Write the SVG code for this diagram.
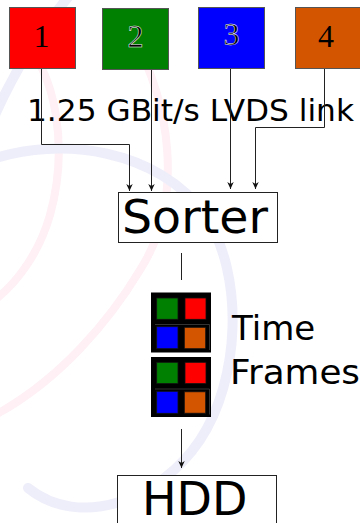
<svg xmlns="http://www.w3.org/2000/svg" width="360" height="523" viewBox="0 0 360 523">
<style>
.wm-b{fill:none;stroke:#eeeefa;stroke-width:10;stroke-linecap:round}
.wm-p{fill:none;stroke:#fef0f5;stroke-width:8;stroke-linecap:round}
.src{stroke:#555;stroke-width:1}
.num{font-family:"Liberation Serif","DejaVu Serif",serif;font-size:32px;text-anchor:middle;fill:#000}
.num2{stroke:#fff;stroke-width:0.5}
.lbl{font-family:"DejaVu Sans",sans-serif;fill:#000}
.box{fill:#fff;stroke:#222;stroke-width:1}
.con{fill:none;stroke:#222;stroke-width:1}
.frm{fill:#000}
.sub{stroke:#111;stroke-width:0.8}
.div{stroke:#555;stroke-width:0.6;fill:none}
</style>
<defs>
<marker id="arr" viewBox="-8 -4 9 8" markerWidth="9" markerHeight="8" refX="0" refY="0" orient="auto" markerUnits="userSpaceOnUse">
<path d="M0,0 L-7,-3.2 L-5,0 L-7,3.2 Z" fill="#111"/>
</marker>
</defs>
<g id="watermark">
<path class="wm-p" d="M18 38 C58 70 68 150 50 215 C40 250 20 280 -5 300"/>
<path class="wm-p" d="M133 38 C170 100 185 200 140 270 C110 320 60 380 -5 415"/>
<path class="wm-b" d="M-10 160 C60 135 160 150 205 215 C245 275 240 380 200 440 C160 500 80 530 28 488"/>
<path class="wm-b" d="M-5 115 C15 70 40 30 70 -5"/>
</g>
<g id="src1"><rect class="src" x="9.5" y="7.5" width="66" height="61" fill="#ff0000"/><text class="num" x="41.5" y="46.5">1</text></g>
<g id="src2"><rect class="src" x="102.5" y="8.5" width="66" height="61" fill="#008000"/><text class="num num2" x="135.5" y="46.5">2</text></g>
<g id="src3"><rect class="src" x="198.5" y="7.5" width="66" height="61" fill="#0000ff"/><text class="num num2" x="231.5" y="45">3</text></g>
<g id="src4"><rect class="src" x="295.5" y="7.5" width="70" height="61" fill="#d45500"/><text class="num" x="326" y="47">4</text></g>
<g id="link-label"><text class="lbl" x="27" y="120.7" font-size="30" textLength="327" lengthAdjust="spacingAndGlyphs">1.25 GBit/s LVDS link</text></g>
<g id="connectors">
<path class="con" d="M41.5 69 V144.5 H129.5 V191" marker-end="url(#arr)"/>
<path class="con" d="M151.5 70 V191" marker-end="url(#arr)"/>
<path class="con" d="M230.5 69 V189" marker-end="url(#arr)"/>
<path class="con" d="M324.5 69 V127.5 H255.5 V189" marker-end="url(#arr)"/>
<path class="con" d="M181.5 253 V280"/>
<path class="con" d="M181.5 429 V468" marker-end="url(#arr)"/>
</g>
<g id="sorter"><rect class="box" x="118.5" y="192.5" width="159" height="50"/><text class="lbl" x="122" y="233.3" font-size="46" textLength="146" lengthAdjust="spacingAndGlyphs">Sorter</text></g>
<g id="frame1">
<rect class="frm" x="151" y="292.5" width="60" height="60"/>
<path class="div" d="M155 324.5 H209.5 V350"/>
<rect class="sub" x="156.7" y="298" width="21.3" height="21.3" fill="#008000"/>
<rect class="sub" x="185" y="298" width="21" height="21.3" fill="#ff0000"/>
<rect class="sub" x="156.7" y="326.7" width="21.3" height="22" fill="#0000ff"/>
<rect class="sub" x="184.3" y="327.3" width="21.4" height="21.4" fill="#d45500"/>
</g>
<g id="frame2">
<rect class="frm" x="151" y="357" width="60" height="60"/>
<path class="div" d="M155 389 H209.5 V414.5"/>
<rect class="sub" x="156.7" y="362.3" width="21.3" height="21.3" fill="#008000"/>
<rect class="sub" x="185" y="362.3" width="21" height="21.3" fill="#ff0000"/>
<rect class="sub" x="156.7" y="391.3" width="21.3" height="22" fill="#0000ff"/>
<rect class="sub" x="184.3" y="391.8" width="21.4" height="21.4" fill="#d45500"/>
</g>
<g id="frames-label">
<text class="lbl" x="232" y="340" font-size="34">Time</text>
<text class="lbl" x="230" y="384.3" font-size="34" textLength="130" lengthAdjust="spacingAndGlyphs">Frames</text>
</g>
<g id="hdd"><rect class="box" x="117.5" y="475.5" width="159" height="60"/><text class="lbl" x="142" y="515.2" font-size="46">HDD</text></g>
</svg>
